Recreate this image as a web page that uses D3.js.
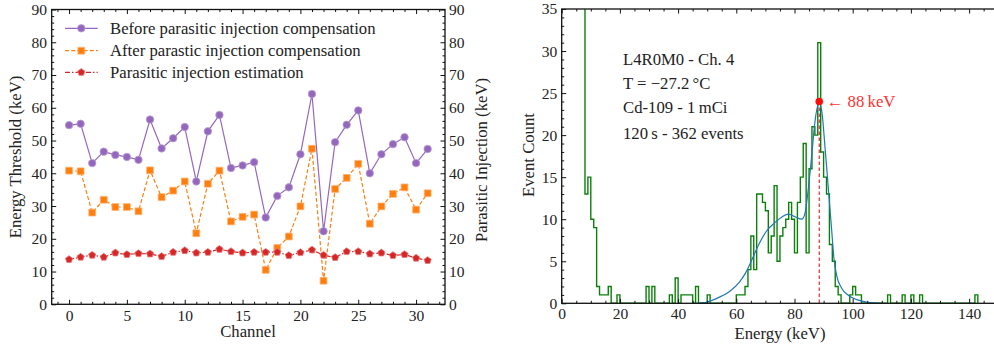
<!DOCTYPE html>
<html><head><meta charset="utf-8">
<script src="https://cdn.jsdelivr.net/npm/d3@7/dist/d3.min.js"></script>
<style>
html,body{margin:0;padding:0;background:#fff;}
svg{display:block;}
svg text{font-family:"Liberation Serif","Times New Roman",Times,serif !important;}
</style></head><body>
<svg id="chart" width="994" height="348"></svg>
<script>
// ---------- Left chart data ----------
const channels = [0,1,2,3,4,5,6,7,8,9,10,11,12,13,14,15,16,17,18,19,20,21,22,23,24,25,26,27,28,29,30,31];
const beforeComp = [54.7,55.1,43.1,46.6,45.6,45.0,44.1,56.4,47.6,50.7,54.1,37.5,52.8,57.8,41.6,42.4,43.4,26.5,33.1,35.7,45.8,64.2,22.3,49.5,54.8,59.2,40.0,45.8,48.9,51.0,43.1,47.4];
const afterComp = [40.8,40.6,28.0,31.9,29.7,29.7,28.4,40.9,32.7,34.7,37.5,21.7,36.8,40.8,25.3,26.7,27.4,10.5,17.2,20.7,29.9,47.5,7.2,35.2,38.6,42.9,24.6,29.9,33.7,35.7,28.9,33.9];
const parasitic = [13.7,14.4,15.0,14.4,15.7,15.2,15.5,15.4,14.6,15.9,16.4,15.7,15.9,16.8,16.1,15.7,15.9,15.9,15.9,14.9,15.8,16.6,15.0,14.3,16.1,16.1,15.4,15.7,14.9,15.2,14.1,13.4];
const legendLabels = ["Before parasitic injection compensation","After parastic injection compensation","Parasitic injection estimation"];
const leftXTicks = [0,5,10,15,20,25,30];
const leftYTicks = [0,10,20,30,40,50,60,70,80,90];

// ---------- Right chart data ----------
const histStart = 7;   // keV, lower edge of first bin
const histBinWidth = 1; // keV
const histCounts = [
 120,13,15,10,9,2,1,1,1,2,0,0,1,            // 7..19
 0,0,0,0,0,0,0,0,0,2,0,2,0,0,0,0,0,1,0,3,   // 20..39
 0,1,1,1,1,0,2,0,0,0,1,0,0,0,0,0,0,0,0,0,   // 40..59
 1,1,1,2,4,8,4,13,13,12,11,6,8,14,5,8,9,10,12,10, // 60..79
 6,12,15,19,6,16,21,20,31,18,15,13,7,5,2,1,0,0,0,1, // 80..99
 2,1,1,0,0,0,0,0,0,0,0,0,1,0,0,0,0,1,0,0,   // 100..119
 1,0,0,1,0,0,0,0,0,0,0,0,0,0,0,0,0,0,0,0,   // 120..139
 0,0,1                                       // 140..142
];
const fitEnergy = [46,50,54,58,61,63,65,67.6,70.4,73.3,75,77.9,80.2,82.5,83.6,84.7,85.9,87,88.4,89.3,90.5,91.6,92.8,93.5,94.5,96.2,98.5,101.4,104.8,110];
const fitCount  = [0,0.15,0.7,1.5,2.5,3.5,4.9,6.9,8.6,9.6,10.1,10.6,10.3,10.0,10.7,13.5,17.5,21.5,23.8,23.0,18.5,13.8,8.6,5.5,3.3,1.8,0.95,0.44,0.15,0];
const peakEnergy = 88.5, peakCount = 24;
const peakLabel = "\u2190 88\u2009keV";
const infoLines = ["L4R0M0 - Ch. 4","T = \u221227.2\u2009\u00B0C","Cd-109 - 1\u2009mCi","120\u2009s - 362 events"];
const rightXTicks = [0,20,40,60,80,100,120,140];
const rightYTicks = [0,5,10,15,20,25,30,35];

const svg = d3.select("#chart");
const TXT = "#222";
const FONT = "'Liberation Serif', 'Times New Roman', serif";
const tickFont = 15.5, labelFont = 16.7;

function styleAxis(g){
  g.attr("font-family",null).attr("font-size",null);
  g.select(".domain").remove();
  g.selectAll(".tick line").attr("stroke","#111").attr("stroke-width",1);
  g.selectAll(".tick text").attr("fill",TXT).attr("font-family",FONT).attr("font-size",tickFont);
  return g;
}
function label(parent){
  return parent.append("text").attr("font-family",FONT).attr("font-size",labelFont).attr("fill",TXT);
}

// ================= LEFT =================
const xL = d3.scaleLinear().domain([-1.5,32.5]).range([51.7,445]);
const yL = d3.scaleLinear().domain([0,90]).range([304.3,9.5]);
const gL = svg.append("g");

const minorX = d3.range(-1,33).filter(v=>v%5!==0);
const minorY = d3.range(0,91,2).filter(v=>v%10!==0);

const cPurple="#9467bd", cOrange="#ff7f0e", cRed="#d62728";
const lineL = d3.line().x((d,i)=>xL(channels[i])).y(d=>yL(d));
gL.append("path").datum(beforeComp).attr("d",lineL).attr("fill","none").attr("stroke",cPurple).attr("stroke-width",1.2);
gL.append("path").datum(afterComp).attr("d",lineL).attr("fill","none").attr("stroke",cOrange).attr("stroke-width",1.2).attr("stroke-dasharray","4,2.2");
gL.append("path").datum(parasitic).attr("d",lineL).attr("fill","none").attr("stroke",cRed).attr("stroke-width",1.2).attr("stroke-dasharray","5,2,1.5,2");

const pentagon = {draw(ctx,size){const r=Math.sqrt(size/2.38);for(let k=0;k<5;k++){const a=-Math.PI/2+k*2*Math.PI/5;const px=r*Math.cos(a),py=r*Math.sin(a);if(k===0)ctx.moveTo(px,py);else ctx.lineTo(px,py);}ctx.closePath();}};
const symCircle = d3.symbol().type(d3.symbolCircle).size(44);
const symSquare = d3.symbol().type(d3.symbolSquare).size(46);
const symPent = d3.symbol().type(pentagon).size(34);

function markers(data,sym,col,edge){
  gL.append("g").selectAll("path").data(data).join("path")
    .attr("transform",(d,i)=>`translate(${xL(channels[i])},${yL(d)})`)
    .attr("d",sym).attr("fill",col).attr("stroke",edge).attr("stroke-width",0.8);
}
markers(beforeComp,symCircle,cPurple,"#b9a0d6");
markers(afterComp,symSquare,cOrange,"#ffb070");
markers(parasitic,symPent,cRed,"#e87a7b");

gL.append("rect").attr("x",xL.range()[0]).attr("y",yL.range()[1]).attr("width",xL.range()[1]-xL.range()[0]).attr("height",yL.range()[0]-yL.range()[1]).attr("fill","none").attr("stroke","#111").attr("stroke-width",1.3);

styleAxis(gL.append("g").attr("transform",`translate(0,${yL(0)})`).call(d3.axisBottom(xL).tickValues(leftXTicks).tickSize(-4.5).tickPadding(5.5)));
styleAxis(gL.append("g").attr("transform",`translate(0,${yL(0)})`).call(d3.axisBottom(xL).tickValues(minorX).tickSize(-2.5).tickFormat("")));
styleAxis(gL.append("g").attr("transform",`translate(0,${yL(90)})`).call(d3.axisTop(xL).tickValues(leftXTicks).tickSize(-4.5).tickFormat("")));
styleAxis(gL.append("g").attr("transform",`translate(0,${yL(90)})`).call(d3.axisTop(xL).tickValues(minorX).tickSize(-2.5).tickFormat("")));
styleAxis(gL.append("g").attr("transform",`translate(${xL.range()[0]},0)`).call(d3.axisLeft(yL).tickValues(leftYTicks).tickSize(-4.5).tickPadding(4.7)));
styleAxis(gL.append("g").attr("transform",`translate(${xL.range()[0]},0)`).call(d3.axisLeft(yL).tickValues(minorY).tickSize(-2.5).tickFormat("")));
styleAxis(gL.append("g").attr("transform",`translate(${xL.range()[1]},0)`).call(d3.axisRight(yL).tickValues(leftYTicks).tickSize(-4.5).tickPadding(4)));
styleAxis(gL.append("g").attr("transform",`translate(${xL.range()[1]},0)`).call(d3.axisRight(yL).tickValues(minorY).tickSize(-2.5).tickFormat("")));

label(gL).attr("x",248).attr("y",337).attr("text-anchor","middle").text("Channel");
label(gL).attr("transform","translate(15.5,157) rotate(-90)").attr("text-anchor","middle").attr("dominant-baseline","central").text("Energy Threshold (keV)");
label(gL).attr("transform","translate(481,160) rotate(-90)").attr("text-anchor","middle").attr("dominant-baseline","central").text("Parasitic Injection (keV)");

const legY = [28.3,50.7,72.3];
const legSpec = [[cPurple,null,symCircle,"#b9a0d6"],[cOrange,"4,2.2",symSquare,"#ffb070"],[cRed,"5,2,1.5,2",symPent,"#e87a7b"]];
legendLabels.forEach((lab,i)=>{
  const g = gL.append("g");
  g.append("line").attr("x1",65).attr("x2",97.7).attr("y1",legY[i]).attr("y2",legY[i]).attr("stroke",legSpec[i][0]).attr("stroke-width",1.2).attr("stroke-dasharray",legSpec[i][1]);
  g.append("path").attr("transform",`translate(81.3,${legY[i]})`).attr("d",legSpec[i][2]).attr("fill",legSpec[i][0]).attr("stroke",legSpec[i][3]).attr("stroke-width",0.8);
  label(g).attr("x",110).attr("y",legY[i]).attr("dominant-baseline","central").text(lab);
});

// ================= RIGHT =================
const xR = d3.scaleLinear().domain([0,150]).range([561.7,998.2]);
const yR = d3.scaleLinear().domain([0,35]).range([303.3,9]);
const gR = svg.append("g");
svg.append("clipPath").attr("id","clipR").append("rect").attr("x",xR.range()[0]).attr("y",yR.range()[1]).attr("width",xR.range()[1]-xR.range()[0]).attr("height",yR.range()[0]-yR.range()[1]);
const plotR = gR.append("g").attr("clip-path","url(#clipR)");

const histPts = histCounts.map((c,i)=>[histStart+i*histBinWidth,c]);
const lastEnd = histStart+histCounts.length*histBinWidth;
histPts.push([lastEnd,histCounts[histCounts.length-1]]);
histPts.push([lastEnd,0]);
plotR.append("path").datum(histPts)
  .attr("d",d3.line().x(d=>xR(d[0])).y(d=>yR(d[1])).curve(d3.curveStepAfter))
  .attr("fill","none").attr("stroke","#0a800a").attr("stroke-width",1.4);

plotR.append("path").datum(fitEnergy.map((e,i)=>[e,fitCount[i]]))
  .attr("d",d3.line().x(d=>xR(d[0])).y(d=>yR(d[1])).curve(d3.curveMonotoneX))
  .attr("fill","none").attr("stroke","#1f77b4").attr("stroke-width",1.2);

plotR.append("line").attr("x1",xR(peakEnergy)).attr("x2",xR(peakEnergy)).attr("y1",yR(peakCount)).attr("y2",yR(0))
  .attr("stroke","#e8191c").attr("stroke-width",1.1).attr("stroke-dasharray","3.5,2.5");
plotR.append("circle").attr("cx",xR(peakEnergy)).attr("cy",yR(peakCount)).attr("r",3.8).attr("fill","#ff0d0d");

gR.append("rect").attr("x",xR.range()[0]).attr("y",yR.range()[1]).attr("width",xR.range()[1]-xR.range()[0]).attr("height",yR.range()[0]-yR.range()[1]).attr("fill","none").attr("stroke","#111").attr("stroke-width",1.3);

const minorXR = d3.range(0,151,5).filter(v=>v%20!==0);
const minorYR = d3.range(0,36,1).filter(v=>v%5!==0);
styleAxis(gR.append("g").attr("transform",`translate(0,${yR(0)})`).call(d3.axisBottom(xR).tickValues(rightXTicks).tickSize(-4.5).tickPadding(4.5)));
styleAxis(gR.append("g").attr("transform",`translate(0,${yR(0)})`).call(d3.axisBottom(xR).tickValues(minorXR).tickSize(-2.5).tickFormat("")));
styleAxis(gR.append("g").attr("transform",`translate(0,${yR(35)})`).call(d3.axisTop(xR).tickValues(rightXTicks).tickSize(-4.5).tickFormat("")));
styleAxis(gR.append("g").attr("transform",`translate(0,${yR(35)})`).call(d3.axisTop(xR).tickValues(minorXR).tickSize(-2.5).tickFormat("")));
styleAxis(gR.append("g").attr("transform",`translate(${xR.range()[0]},0)`).call(d3.axisLeft(yR).tickValues(rightYTicks).tickSize(-4.5).tickPadding(4.5)));
styleAxis(gR.append("g").attr("transform",`translate(${xR.range()[0]},0)`).call(d3.axisLeft(yR).tickValues(minorYR).tickSize(-2.5).tickFormat("")));

label(gR).attr("x",780).attr("y",339).attr("text-anchor","middle").text("Energy (keV)");
label(gR).attr("transform","translate(528,155) rotate(-90)").attr("text-anchor","middle").attr("dominant-baseline","central").text("Event Count");

const infoY = [65,89,113,138.5];
infoLines.forEach((t,i)=>{ label(gR).attr("x",623).attr("y",infoY[i]).text(t); });
label(gR).attr("x",xR(peakEnergy)+7.5).attr("y",yR(peakCount)+5.5).attr("fill","#ff3030").text(peakLabel);
</script>
</body></html>
